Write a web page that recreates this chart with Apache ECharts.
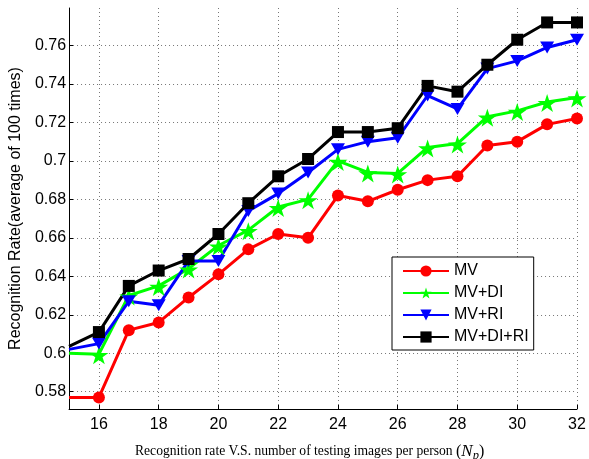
<!DOCTYPE html>
<html>
<head>
<meta charset="utf-8">
<script src="https://cdn.jsdelivr.net/npm/echarts@6/dist/echarts.min.js"></script>
<style>
html,body{margin:0;padding:0;background:#fff;}
#c{width:589px;height:459px;}
</style>
</head>
<body>
<div id="c"></div>
<script>
var xValues = [15,16,17,18,19,20,21,22,23,24,25,26,27,28,29,30,31,32];
var xTicks = [16,18,20,22,24,26,28,30,32];
var yTicks = [0.58,0.60,0.62,0.64,0.66,0.68,0.70,0.72,0.74,0.76];
var seriesNames = ['MV','MV+DI','MV+RI','MV+DI+RI'];
var mv      = [0.577,0.577,0.612,0.616,0.629,0.641,0.654,0.662,0.660,0.682,0.679,0.685,0.690,0.692,0.708,0.710,0.719,0.722];
var mvDI    = [0.600,0.5995,0.630,0.635,0.644,0.656,0.664,0.676,0.680,0.700,0.694,0.6935,0.707,0.709,0.723,0.726,0.7306,0.733];
var mvRI    = [0.602,0.605,0.627,0.625,0.648,0.648,0.674,0.683,0.694,0.706,0.710,0.712,0.734,0.727,0.748,0.752,0.759,0.763];
var mvDIRI  = [0.6036,0.611,0.635,0.643,0.649,0.662,0.678,0.692,0.701,0.715,0.715,0.717,0.739,0.736,0.750,0.763,0.772,0.772];

var STAR = 'path://M50,0 L61.2,34.5 L97.6,34.5 L68.2,55.9 L79.4,90.5 L50,69.1 L20.6,90.5 L31.8,55.9 L2.4,34.5 L38.8,34.5 Z';
var TRI_DOWN = 'path://M0,0 L100,0 L50,86.6 Z';

function pts(arr){
  return arr.map(function(v,i){
    var item = {value:[xValues[i], v]};
    if(i===0){ item.symbol = 'none'; }
    return item;
  });
}

var chart = echarts.init(document.getElementById('c'), null, {renderer:'canvas'});
var FONT = 'Liberation Sans, Arial, Helvetica, sans-serif';
var SERIF = 'Liberation Serif, Times New Roman, serif';
function mk(name, data, color, symbol, size, offset){
  return {
    name:name, type:'line', data:pts(data),
    symbol:symbol, symbolSize:size, symbolOffset: offset || [0,0],
    showAllSymbol:true,
    lineStyle:{color:color,width:3},
    itemStyle:{color:color,borderWidth:0},
    emphasis:{disabled:true},
    animation:false, clip:true
  };
}
chart.setOption({
  animation:false,
  backgroundColor:'#fff',
  grid:{left:67,right:12,top:8,bottom:50},
  title:{
    text:'{t|Recognition rate V.S. number of testing images per person }{par|(}{n|N}{p|p}{par|)}',
    left:130, top:436,
    textStyle:{
      fontWeight:'normal',
      rich:{
        t:{fontFamily:SERIF,fontSize:13.6,fontWeight:'normal',color:'#000'},
        par:{fontFamily:SERIF,fontSize:16,fontWeight:'normal',color:'#000'},
        n:{fontFamily:SERIF,fontStyle:'italic',fontWeight:'normal',fontSize:17,color:'#000'},
        p:{fontFamily:SERIF,fontStyle:'italic',fontWeight:'normal',fontSize:12.5,color:'#000',padding:[8,0,0,0]}
      }
    }
  },
  legend:{
    orient:'vertical', left:392, top:257,
    padding:[6,5,5,10],
    itemWidth:46, itemHeight:14, itemGap:6,
    borderColor:'#000', borderWidth:1, backgroundColor:'#fff',
    textStyle:{fontFamily:FONT,fontSize:16,color:'#000'},
    data:seriesNames
  },
  xAxis:{
    type:'value', min:15, max:32,
    axisLine:{show:true,lineStyle:{color:'#000',width:1}},
    axisTick:{show:true,inside:true,length:4,lineStyle:{color:'#000'},customValues:xTicks},
    axisLabel:{fontFamily:FONT,fontSize:16,color:'#000',margin:8,customValues:xTicks},
    splitLine:{show:true,lineStyle:{color:'#777',width:1,type:[1,3]}}
  },
  yAxis:{
    type:'value', min:0.571, max:0.7795,
    name:'Recognition Rate(average of 100 times)',
    nameLocation:'middle', nameGap:42, nameRotate:90,
    nameTextStyle:{fontFamily:FONT,fontSize:16,color:'#000'},
    axisLine:{show:true,lineStyle:{color:'#000',width:1}},
    axisTick:{show:true,inside:true,length:4,lineStyle:{color:'#000'},customValues:yTicks},
    axisLabel:{fontFamily:FONT,fontSize:16,color:'#000',margin:3,customValues:yTicks,
      formatter:function(v){ return String(parseFloat(v.toFixed(2))); }},
    splitLine:{show:true,lineStyle:{color:'#777',width:1,type:[1,3]}}
  },
  series:[
    mk(seriesNames[0], mv, '#ff0000', 'circle', 12),
    mk(seriesNames[1], mvDI, '#00ff00', STAR, [19,18], [0,1]),
    mk(seriesNames[2], mvRI, '#0000ff', TRI_DOWN, [14,12]),
    mk(seriesNames[3], mvDIRI, '#000000', 'rect', 12)
  ]
});
</script>
</body>
</html>
